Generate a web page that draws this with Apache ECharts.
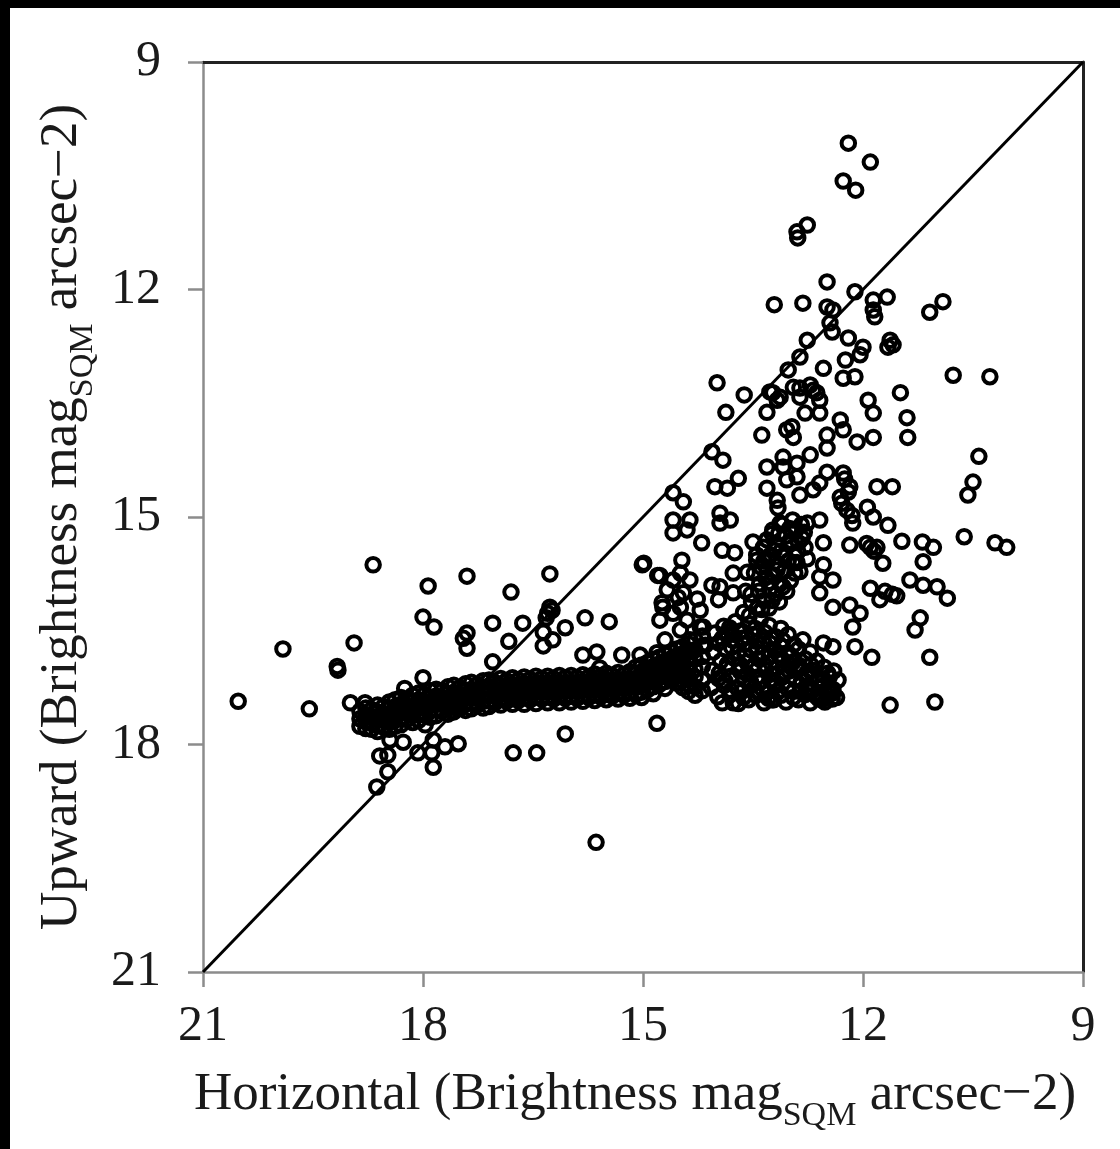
<!DOCTYPE html>
<html>
<head>
<meta charset="utf-8">
<script src="https://cdn.jsdelivr.net/npm/echarts@6/dist/echarts.min.js"></script>
<style>
html,body{margin:0;padding:0;background:#fff;}
#chart{width:1120px;height:1149px;}
</style>
</head>
<body>
<div id="chart"></div>
<script>
// Axis ticks (both axes run 21 -> 9)
const axisMin = 9;
const axisMax = 21;
const tickStep = 3;

// 1:1 reference line
const diagonal = [[21, 21], [9, 9]];

// Isolated points, left / lower part [Horizontal, Upward]
const outliersLow = [
  [20.52,17.43],[19.91,16.74],[19.55,17.53],[19.17,16.97],[19.16,17.02],[18.94,16.66],[18.68,15.63],
  [18.99,17.45],[18.79,17.45],[17.93,15.91],[17.40,15.78],[18.00,16.32],[17.85,16.45],[17.05,16.40],
  [17.40,16.53],[17.45,16.60],[17.40,16.73],[18.00,17.12],[18.25,17.26],[18.45,17.94],[18.27,17.97],
  [18.59,18.15],[18.48,18.14],[18.48,18.36],[18.63,18.56],[17.97,17.74],[17.86,17.94],[17.70,18.03],
  [17.52,17.99],[18.07,18.11],[17.88,18.11],[17.86,18.30],[16.27,15.75],[16.80,15.99],[15.01,15.63],
  [16.64,16.40],[16.83,16.64],[16.27,16.19],[16.30,16.27],[16.24,16.23],[16.32,16.33],[16.06,16.46],
  [16.36,16.52],[16.36,16.70],[16.23,16.62],[15.79,16.33],[15.46,16.38],[15.82,16.82],[15.63,16.78],
  [15.59,16.99],[15.04,16.82],[14.81,16.79],[15.29,16.82],[17.05,16.91],[14.81,17.72],[16.06,17.86],
  [16.77,18.11],[16.45,18.11],[15.64,19.29]
];

// Rising arm just right of 15
const risingArm = [
  [14.77,15.77],[14.49,15.74],[14.67,15.96],[14.45,16.00],[14.26,16.08],[14.74,16.13],[14.49,16.19],
  [14.77,16.36],[14.18,16.45],[13.77,15.74],[13.95,15.92],[13.97,16.09],[13.77,16.00],[13.77,17.45],
  [13.24,17.41],[14.52,16.06],[14.73,16.19],[14.59,16.27],[14.40,16.36],[14.22,16.45],[14.36,16.62],
  [14.15,16.69],[14.49,16.49],[14.22,16.23],[14.06,15.90],[14.70,16.62],[14.59,15.83],[14.36,15.83],
  [14.99,15.61],[14.80,15.77],[14.47,15.57]
];

// Scatter in the 13-16 band
const midScatter = [
  [13.99,13.23],[13.62,13.39],[13.87,13.62],[13.38,13.92],[13.31,13.62],[13.23,13.36],[13.17,13.46],
  [12.95,13.29],[12.68,13.33],[12.59,13.46],[12.79,13.63],[12.59,13.63],[13.04,13.85],[12.95,13.95],
  [12.97,13.81],[12.31,13.72],[12.27,13.85],[11.93,13.46],[11.86,13.63],[11.49,13.36],[11.40,13.69],
  [11.39,13.95],[12.49,13.92],[12.49,14.09],[12.08,14.01],[11.86,13.95],[12.72,14.18],[13.31,14.34],
  [13.09,14.34],[12.90,14.29],[14.06,14.14],[13.91,14.25],[14.02,14.60],[13.85,14.62],[13.70,14.49],
  [13.31,14.62],[13.04,14.51],[12.86,14.71],[12.68,14.64],[12.59,14.55],[12.49,14.41],[14.59,14.68],
  [14.45,14.80],[13.17,14.78],[13.16,14.88],[12.27,14.42],[12.18,14.60],[12.31,14.74],[12.22,14.91],
  [12.14,15.08],[11.81,14.60],[11.60,14.60],[11.94,14.87],[11.86,15.00],[11.66,15.11],[14.59,15.04],
  [14.36,15.04],[14.59,15.21],[14.40,15.17],[13.95,14.95],[13.95,15.08],[13.81,15.04],[14.20,15.34],
  [13.92,15.44],[13.75,15.47],[13.50,15.33],[13.23,15.17],[13.13,15.08],[12.76,15.08],[12.59,15.04],
  [12.54,15.34],[12.18,15.37],[11.90,15.40],[11.81,15.40],[11.73,15.61],[11.47,15.32],[11.19,15.33],
  [11.04,15.40],[11.18,15.59],[13.58,15.73],[13.45,15.57],[12.54,15.63],[12.41,15.83],[12.59,15.79],
  [11.90,15.94],[11.77,16.09],[11.54,16.04],[11.36,15.83],[11.18,15.90],[10.99,15.92],[11.22,16.33],
  [11.29,16.49],[11.09,16.85],[11.63,17.48],[11.02,17.44],[12.18,16.16],[12.04,16.27],[12.14,16.45],
  [12.11,16.71],[11.88,16.85],[12.54,16.66],[12.41,16.71],[12.41,16.19],[12.59,16.00],[12.56,17.41],
  [12.41,17.32],[12.25,14.50],[12.20,14.67],[12.29,14.82],[12.15,14.98],[11.95,15.35],[11.85,15.45],
  [11.70,15.98],[11.60,16.02],[13.09,14.21],[12.90,14.47]
];

// Upper points (brighter than 13.5)
const topScatter = [
  [12.20,10.07],[11.90,10.32],[12.27,10.57],[12.10,10.69],[12.76,11.15],[12.90,11.24],[12.89,11.32],
  [12.49,11.90],[13.21,12.20],[12.82,12.18],[12.11,12.03],[12.49,12.23],[12.41,12.27],[12.45,12.44],
  [12.42,12.56],[11.86,12.14],[11.67,12.10],[11.86,12.27],[11.84,12.36],[11.09,12.30],[10.91,12.16],
  [11.63,12.67],[11.59,12.73],[11.66,12.76],[12.20,12.64],[12.00,12.76],[12.04,12.86],[12.76,12.67],
  [12.86,12.89],[13.02,13.06],[12.24,12.93],[12.27,13.17],[12.11,13.15],[12.54,13.04],[10.77,13.13],
  [10.27,13.15],[13.27,13.35],[13.13,13.42],[12.86,13.30],[12.72,13.26],[12.86,13.42],[12.63,13.36]
];

// Far right points
const farRight = [
  [10.42,14.20],[10.50,14.54],[10.57,14.71],[10.62,15.26],[10.20,15.34],[10.04,15.40],[10.85,16.07]
];

// Dense band, left part: [Horizontal, [Upward values...]]
const bandLeftCols = [
  [18.86,[17.56,17.66,17.76]],
  [18.78,[17.52,17.61,17.70,17.79]],
  [18.70,[17.54,17.63,17.72,17.80]],
  [18.62,[17.48,17.57,17.66,17.75,17.83]],
  [18.54,[17.50,17.59,17.68,17.77]],
  [18.46,[17.44,17.53,17.62,17.71,17.80]],
  [18.38,[17.41,17.50,17.59,17.68,17.76]],
  [18.30,[17.38,17.47,17.56,17.65,17.74]],
  [18.22,[17.40,17.49,17.58,17.67]],
  [18.14,[17.35,17.44,17.53,17.62,17.71]],
  [18.06,[17.32,17.41,17.50,17.59,17.68]],
  [17.98,[17.34,17.43,17.52,17.61]],
  [17.90,[17.29,17.38,17.47,17.56,17.64]],
  [17.82,[17.27,17.36,17.45,17.54,17.62]],
  [17.74,[17.29,17.38,17.47,17.56]],
  [17.66,[17.24,17.33,17.42,17.51,17.60]],
  [17.58,[17.22,17.31,17.40,17.49,17.57]],
  [17.50,[17.25,17.34,17.43,17.52]],
  [17.42,[17.20,17.29,17.38,17.47,17.55]],
  [17.34,[17.18,17.27,17.36,17.45,17.53]],
  [17.26,[17.21,17.30,17.39,17.48]],
  [17.18,[17.16,17.25,17.34,17.43,17.52]],
  [17.10,[17.15,17.24,17.33,17.42,17.50]],
  [17.02,[17.18,17.27,17.36,17.45]]
];

// Dense band, middle part
const bandMiddleCols = [
  [16.94,[17.13,17.22,17.31,17.40,17.48]],
  [16.86,[17.16,17.25,17.34,17.43]],
  [16.78,[17.12,17.21,17.30,17.39,17.47]],
  [16.70,[17.15,17.24,17.33,17.42]],
  [16.62,[17.11,17.20,17.29,17.38,17.47]],
  [16.54,[17.14,17.23,17.32,17.41]],
  [16.46,[17.10,17.19,17.28,17.37,17.46]],
  [16.38,[17.13,17.22,17.31,17.40]],
  [16.30,[17.10,17.19,17.28,17.37,17.45]],
  [16.22,[17.13,17.22,17.31,17.40]],
  [16.14,[17.09,17.18,17.27,17.36,17.45]],
  [16.06,[17.12,17.21,17.30,17.39]],
  [15.98,[17.09,17.18,17.27,17.36,17.44]],
  [15.90,[17.12,17.21,17.30,17.39]],
  [15.82,[17.08,17.17,17.26,17.35,17.43]],
  [15.74,[17.11,17.20,17.29,17.38]],
  [15.66,[17.07,17.16,17.25,17.34,17.42]],
  [15.58,[17.10,17.19,17.28,17.37]],
  [15.50,[17.06,17.15,17.24,17.33,17.41]],
  [15.42,[17.09,17.18,17.27,17.36]],
  [15.34,[17.05,17.14,17.23,17.32,17.40]],
  [15.26,[17.08,17.17,17.26,17.35]],
  [15.18,[17.04,17.13,17.22,17.31,17.39]]
];

// Dense band, right part (rising toward 14)
const bandRightCols = [
  [15.10,[16.98,17.07,17.16,17.25,17.34]],
  [15.02,[16.95,17.04,17.13,17.22,17.31,17.38]],
  [14.94,[16.92,17.01,17.10,17.19,17.28]],
  [14.86,[16.88,16.97,17.06,17.15,17.24,17.33]],
  [14.78,[16.85,16.94,17.03,17.12,17.21]],
  [14.70,[16.81,16.90,16.99,17.08,17.17,17.26]],
  [14.62,[16.78,16.87,16.96,17.05,17.14]],
  [14.54,[16.74,16.83,16.92,17.01,17.10,17.19]],
  [14.46,[16.71,16.80,16.89,16.98,17.07,17.16,17.25]],
  [14.38,[16.67,16.76,16.85,16.94,17.03,17.12,17.21,17.30]],
  [14.29,[16.62,16.75,16.87,17.01,17.11,17.24,17.35]],
  [14.19,[16.57,16.70,16.84,16.97,17.15,17.29]]
];

// Lower cluster (14 - 12.3), irregular
const lowerCluster = [
  [13.90,16.44],[13.74,16.38],[13.55,16.41],[13.40,16.35],[13.28,16.43],[13.12,16.47],[13.80,16.50],
  [14.02,16.53],[13.85,16.56],[13.66,16.50],[13.50,16.55],[13.34,16.52],[13.19,16.58],[13.02,16.55],
  [13.97,16.66],[13.79,16.62],[13.61,16.68],[13.45,16.64],[13.27,16.66],[13.09,16.63],[12.94,16.68],
  [12.82,16.62],[14.04,16.78],[13.88,16.74],[13.70,16.79],[13.53,16.75],[13.37,16.80],[13.20,16.76],
  [13.03,16.79],[12.88,16.74],[12.72,16.78],[13.94,16.90],[13.76,16.86],[13.59,16.91],[13.42,16.87],
  [13.26,16.92],[13.10,16.88],[12.95,16.91],[12.79,16.87],[12.63,16.90],[14.05,17.02],[13.86,16.99],
  [13.68,17.03],[13.50,16.98],[13.33,17.02],[13.17,16.99],[13.01,17.03],[12.85,16.99],[12.69,17.02],
  [12.53,16.98],[12.40,17.03],[13.97,17.13],[13.80,17.10],[13.62,17.14],[13.44,17.11],[13.27,17.15],
  [13.10,17.11],[12.93,17.14],[12.77,17.10],[12.61,17.14],[12.46,17.11],[12.34,17.15],[14.07,17.25],
  [13.89,17.22],[13.71,17.26],[13.54,17.23],[13.37,17.27],[13.20,17.23],[13.03,17.26],[12.86,17.22],
  [12.70,17.26],[12.55,17.23],[12.41,17.27],[13.98,17.37],[13.81,17.34],[13.63,17.38],[13.46,17.35],
  [13.29,17.39],[13.12,17.35],[12.95,17.38],[12.79,17.34],[12.63,17.37],[12.48,17.35],[12.36,17.38],
  [13.92,17.45],[13.70,17.46],[13.35,17.45],[13.05,17.44],[12.72,17.45],[12.52,17.44],
  [13.58,16.58],[13.25,16.60],[13.15,16.82],[13.48,16.95],[12.99,16.95],[13.40,17.18],[12.85,17.30],
  [13.65,17.30],[13.15,17.30],[12.60,17.25],
  [13.82,16.46],[13.47,16.47],[13.65,16.60],[13.92,16.60],[13.36,16.63],[13.79,16.72],[13.45,16.72],
  [13.12,16.70],[13.61,16.83],[13.28,16.84],[12.98,16.83],[13.85,16.94],[13.67,16.95],[13.34,16.95],
  [12.88,16.95],[12.71,16.95],[13.96,17.06],[13.58,17.07],[13.25,17.07],[13.08,17.05],[12.77,17.06],
  [12.48,17.06],[13.88,17.17],[13.53,17.18],[13.19,17.18],[12.84,17.16],[12.55,17.17],[13.80,17.29],
  [13.46,17.29],[13.30,17.31],[12.95,17.30],[12.72,17.30],[12.47,17.30],[13.56,17.41],[13.22,17.41],
  [12.88,17.41],[12.60,17.40],[12.42,17.40]
];

// Central cluster around 13, 15.5
const centralCluster = [
  [13.60,15.98],[13.52,16.12],[13.63,16.26],[13.48,15.74],[13.41,15.88],[13.53,16.02],[13.44,16.20],
  [13.36,15.40],[13.30,15.55],[13.39,15.66],[13.33,15.80],[13.27,15.95],[13.35,16.10],[13.24,15.22],
  [13.18,15.36],[13.26,15.50],[13.15,15.63],[13.22,15.76],[13.13,15.88],[13.19,16.02],[13.10,15.10],
  [13.05,15.25],[13.12,15.45],[13.02,15.58],[13.08,15.72],[12.99,15.84],[13.04,15.98],[12.96,15.04],
  [12.92,15.18],[12.98,15.32],[12.89,15.46],[12.95,15.60],[12.86,15.72],[12.83,15.28],[12.79,15.40],
  [12.84,15.10],[12.76,15.55],[13.45,15.50],[13.28,16.20],[13.14,16.12],
  [13.31,15.30],[13.21,15.44],[13.35,15.58],[13.17,15.70],[13.28,15.86],[13.09,15.92],[13.42,15.98],
  [13.00,15.36],[12.90,15.60],[13.07,15.52],[12.93,15.74],[13.15,15.22],[12.88,15.34],[13.24,16.10],
  [13.38,16.22],[13.55,16.30],[13.00,15.15],[12.80,15.20]
];

function expandCols(cols) {
  const out = [];
  cols.forEach(function (c) { c[1].forEach(function (y) { out.push([c[0], y]); }); });
  return out;
}

const allPoints = [].concat(outliersLow, risingArm, midScatter, topScatter, farRight,
  expandCols(bandLeftCols), expandCols(bandMiddleCols), expandCols(bandRightCols),
  lowerCluster, centralCluster);

const FONT = "'Liberation Serif', 'Times New Roman', serif";
const TXT = '#1a1a1a';
const GRAY = '#8c8c8c';

const nameRich = {
  a: { fontFamily: FONT, fontSize: 53, color: TXT, lineHeight: 64 },
  sub: { fontFamily: FONT, fontSize: 34, color: TXT, lineHeight: 64, padding: [42, 0, 0, 0] }
};

const chart = echarts.init(document.getElementById('chart'), null, { renderer: 'canvas' });
chart.setOption({
  animation: false,
  backgroundColor: '#ffffff',
  graphic: [
    { type: 'rect', left: 0, top: 0, shape: { width: 1120, height: 8 }, style: { fill: '#000' } },
    { type: 'rect', left: 0, top: 0, shape: { width: 10, height: 1149 }, style: { fill: '#000' } }
  ],
  grid: { left: 203, right: 37, top: 62, bottom: 177, containLabel: false },
  xAxis: [
    {
      type: 'value', min: axisMin, max: axisMax, interval: tickStep, inverse: true, position: 'bottom',
      axisLine: { show: true, lineStyle: { color: GRAY, width: 2.5 } },
      axisTick: { show: true, length: 15, inside: false, lineStyle: { color: GRAY, width: 2.5 } },
      axisLabel: { fontFamily: FONT, fontSize: 50, color: TXT, margin: 30 },
      splitLine: { show: false },
      name: '{a|Horizontal (Brightness mag}{sub|SQM}{a| arcsec\u22122)}',
      nameLocation: 'middle', nameGap: 91,
      nameTextStyle: { rich: nameRich, padding: [0, 16, 0, 0] }
    },
    {
      type: 'value', min: axisMin, max: axisMax, inverse: true, position: 'top',
      axisLine: { show: true, lineStyle: { color: '#222', width: 3 } },
      axisTick: { show: false }, axisLabel: { show: false }, splitLine: { show: false }
    }
  ],
  yAxis: [
    {
      type: 'value', min: axisMin, max: axisMax, interval: tickStep, inverse: true, position: 'left',
      axisLine: { show: true, lineStyle: { color: GRAY, width: 2.5 } },
      axisTick: { show: true, length: 15, inside: false, lineStyle: { color: GRAY, width: 2.5 } },
      axisLabel: { fontFamily: FONT, fontSize: 50, color: TXT, margin: 42 },
      splitLine: { show: false },
      name: '{a|Upward (Brightness mag}{sub|SQM}{a| arcsec\u22122)}',
      nameLocation: 'middle', nameGap: 103,
      nameTextStyle: { rich: nameRich }
    },
    {
      type: 'value', min: axisMin, max: axisMax, inverse: true, position: 'right',
      axisLine: { show: true, lineStyle: { color: '#222', width: 3 } },
      axisTick: { show: false }, axisLabel: { show: false }, splitLine: { show: false }
    }
  ],
  series: [
    {
      type: 'line', xAxisIndex: 0, yAxisIndex: 0, data: diagonal, symbol: 'none',
      lineStyle: { color: '#000', width: 3 }, z: 3
    },
    {
      type: 'scatter', xAxisIndex: 0, yAxisIndex: 0, data: allPoints,
      symbol: 'circle', symbolSize: 13.5, large: false,
      itemStyle: { color: 'rgba(0,0,0,0)', borderColor: '#000', borderWidth: 4, opacity: 1 },
      z: 4
    }
  ]
});
</script>
</body>
</html>
